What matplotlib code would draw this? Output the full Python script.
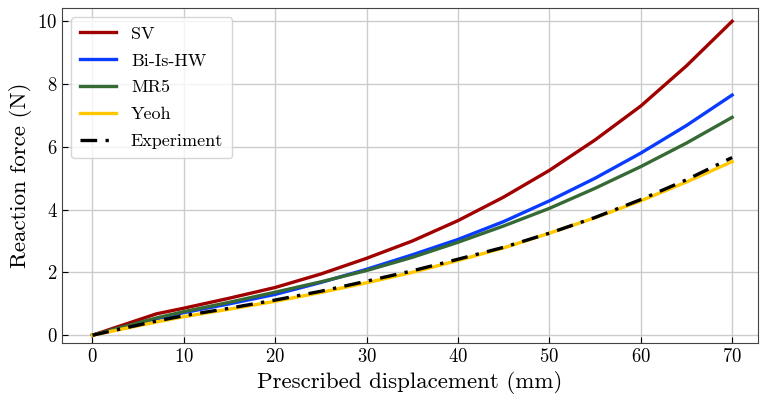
import matplotlib
matplotlib.use("Agg")
import matplotlib.pyplot as plt

plt.rcParams['font.family'] = ['cmr10', 'DejaVu Serif']
plt.rcParams['mathtext.fontset'] = 'cm'
plt.rcParams['axes.unicode_minus'] = False
plt.rcParams['axes.formatter.use_mathtext'] = True

# displacement (mm)
disp = [0, 7, 10, 15, 20, 25, 30, 35, 40, 45, 50, 55, 60, 65, 70]

# reaction forces (N)
sv = [0, 0.68, 0.86, 1.18, 1.52, 1.95, 2.45, 3.0, 3.65, 4.4, 5.25, 6.22, 7.3, 8.58, 10.0]
bi_is_hw = [0, 0.52, 0.72, 1.0, 1.30, 1.68, 2.10, 2.56, 3.05, 3.62, 4.28, 5.0, 5.8, 6.68, 7.65]
mr5 = [0, 0.55, 0.75, 1.05, 1.37, 1.70, 2.06, 2.48, 2.96, 3.48, 4.04, 4.68, 5.37, 6.12, 6.94]
yeoh = [0, 0.42, 0.59, 0.83, 1.08, 1.36, 1.67, 2.0, 2.38, 2.78, 3.25, 3.74, 4.28, 4.88, 5.53]
experiment = [0, 0.45, 0.62, 0.86, 1.12, 1.40, 1.72, 2.05, 2.42, 2.80, 3.25, 3.75, 4.32, 4.95, 5.66]

fig = plt.figure(figsize=(7.6, 4.05), dpi=100)
ax = fig.add_axes([0.082, 0.153, 0.915, 0.827])

ax.plot(disp, sv, color='#a00000', lw=2.4, label='SV')
ax.plot(disp, bi_is_hw, color='#0a3cff', lw=2.4, label='Bi-Is-HW')
ax.plot(disp, mr5, color='#356a35', lw=2.4, label='MR5')
ax.plot(disp, yeoh, color='#ffc800', lw=2.4, label='Yeoh')
ax.plot(disp, experiment, color='black', lw=2.4, linestyle=(0, (5, 2.5, 1, 2.5)), label='Experiment')

ax.set_xlim(-3.3, 72.8)
ax.set_ylim(-0.25, 10.42)
ax.set_xticks(range(0, 71, 10))
ax.set_yticks(range(0, 11, 2))
ax.grid(True, color='#cccccc', lw=1)
ax.set_axisbelow(True)
ax.tick_params(direction='in', length=4, labelsize=13.5)
for s in ax.spines.values():
    s.set_color('#444444')

ax.set_xlabel('Prescribed displacement (mm)', fontsize=16.5)
ax.set_ylabel('Reaction force (N)', fontsize=16.5)

ax.legend(loc='upper left', fontsize=13, handlelength=2.0, framealpha=0.8,
          borderpad=0.5, labelspacing=0.62)

fig.savefig('out.png', dpi=100)
